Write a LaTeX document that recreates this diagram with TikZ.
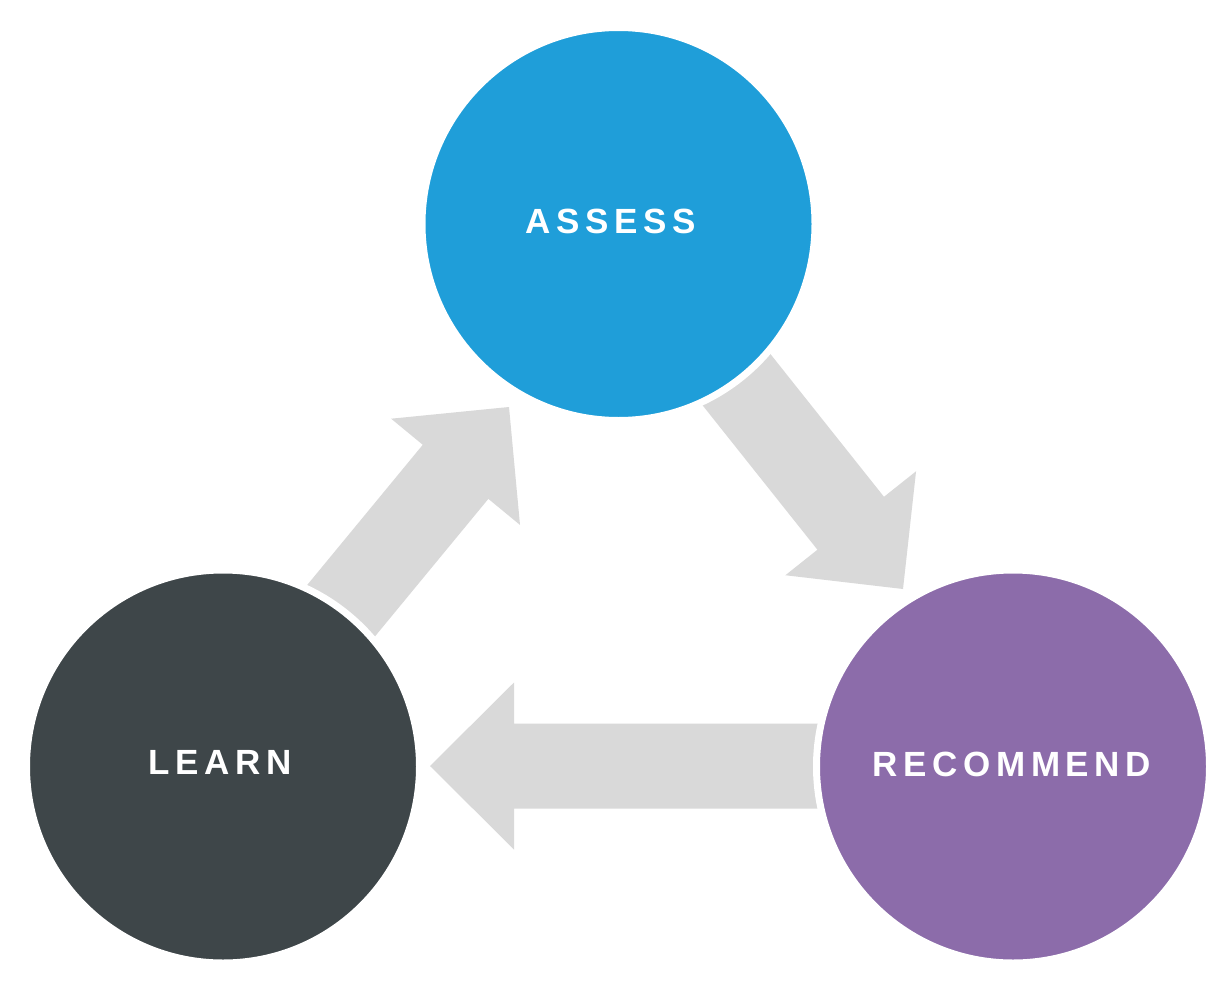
\documentclass[tikz,border=0pt]{standalone}
\usepackage{fontspec}
\setmainfont{Liberation Sans}
\newfontfamily\labelfont[LetterSpace=16]{Liberation Sans}
\definecolor{cblue}{HTML}{1F9ED9}
\definecolor{cdark}{HTML}{3E4649}
\definecolor{cpurple}{HTML}{8C6CAA}
\definecolor{carrow}{HTML}{D9D9D9}
\tikzset{
  blockarrow/.style={fill=carrow, draw=none},
  bubble/.style={circle, minimum size=393pt, inner sep=0pt, draw=white, line width=7pt},
  lbl/.style={text=white, inner sep=0pt, anchor=center, font=\labelfont\bfseries\fontsize{35}{35}\selectfont}
}
\newcommand{\blockarrowpath}{(0,0) -- (-84,83.5) -- (-84,42.5) -- (-400,42.5) -- (-400,-42.5) -- (-84,-42.5) -- (-84,-83.5) -- cycle}
\begin{document}
\begin{tikzpicture}[x=1pt,y=1pt]
\useasboundingbox (0,0) rectangle (1218,-982);
\fill[white] (0,0) rectangle (1218,-982);
% arrows
\begin{scope}[shift={(509,-407)}, rotate=50.5]
  \fill[blockarrow] \blockarrowpath;
\end{scope}
\begin{scope}[shift={(903,-589)}, rotate=-51.5]
  \fill[blockarrow] \blockarrowpath;
\end{scope}
\begin{scope}[shift={(430,-766)}, rotate=180]
  \fill[blockarrow] \blockarrowpath;
\end{scope}
% circles
\node[bubble, fill=cblue] (assess) at (618.5,-224) {};
\node[bubble, fill=cdark] (learn) at (223,-766.5) {};
\node[bubble, fill=cpurple] (recommend) at (1013,-766.5) {};
% labels
\node[lbl] (tassess) at (610.5,-221.5) {ASSESS};
\node[lbl] (tlearn) at (220,-762) {LEARN};
\node[lbl] (trecommend) at (1012,-764) {RECOMMEND};
\end{tikzpicture}
\end{document}
